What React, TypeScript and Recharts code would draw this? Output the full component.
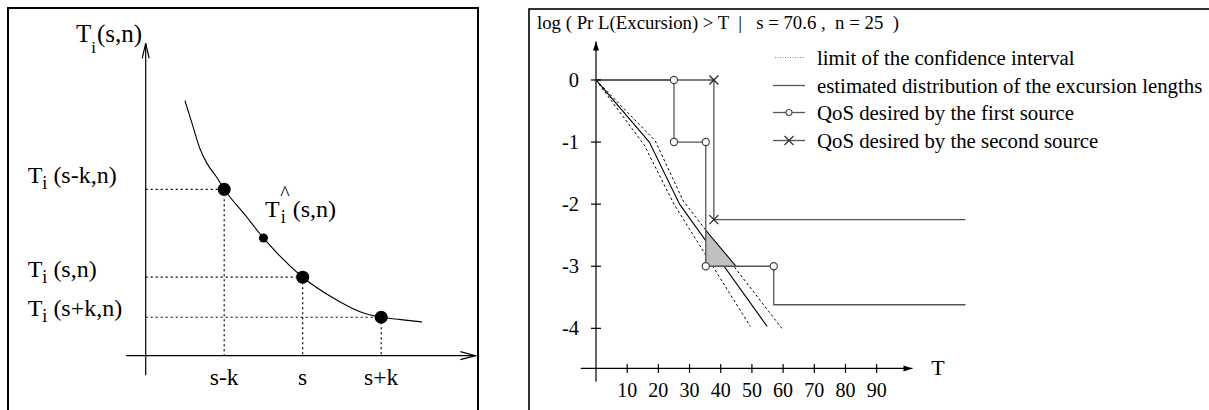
import React from 'react';
import { ComposedChart, Line, Scatter, XAxis, YAxis, ReferenceLine, Area, Legend } from 'recharts';

const FONT = '"Liberation Serif", "Times New Roman", serif';

// ---------------- Left panel (schematic units) ----------------
const leftCurve = [
  { x: 0.5, y: 3.25 },
  { x: 0.59, y: 2.96 },
  { x: 0.69, y: 2.64 },
  { x: 0.78, y: 2.45 },
  { x: 0.9, y: 2.28 },
  { x: 1.0, y: 2.12 },
  { x: 1.26, y: 1.8 },
  { x: 1.5, y: 1.5 },
  { x: 2.0, y: 1.0 },
  { x: 2.39, y: 0.735 },
  { x: 2.73, y: 0.56 },
  { x: 3.0, y: 0.49 },
  { x: 3.25, y: 0.46 },
  { x: 3.52, y: 0.43 },
];
const leftPoints = [
  { x: 1, y: 2.12 },
  { x: 2, y: 1.0 },
  { x: 3, y: 0.49 },
];
const leftHatPoint = [{ x: 1.5, y: 1.5 }];
const leftXTicks = [1, 2, 3];
const leftXLabels = ['s-k', 's', 's+k'];
const leftYTicks = [2.2, 1.0, 0.5];
const leftYArgs = ['(s-k,n)', '(s,n)', '(s+k,n)'];
const leftXAxisExtent = [-0.25, 4.2];
const leftYAxisExtent = [-0.25, 3.98];

// ---------------- Right panel ----------------
const legendNames = [
  'limit of the confidence interval',
  'estimated distribution of the excursion lengths',
  'QoS desired by the first source',
  'QoS desired by the second source',
];
const ciLower = [
  { x: 0, y: 0 },
  { x: 15.5, y: -1.05 },
  { x: 25, y: -2.0 },
  { x: 49.5, y: -3.97 },
];
const estimated = [
  { x: 0, y: 0 },
  { x: 17.1, y: -1.0 },
  { x: 26.8, y: -2.0 },
  { x: 54.9, y: -3.97 },
];
const ciUpper = [
  { x: 0, y: 0 },
  { x: 19, y: -0.98 },
  { x: 28, y: -1.95 },
  { x: 59.6, y: -4.0 },
];
const qos1Path = [
  { x: 0, y: 0 },
  { x: 25, y: 0 },
  { x: 25, y: -1 },
  { x: 35.2, y: -1 },
  { x: 35.2, y: -3 },
  { x: 57, y: -3 },
  { x: 57, y: -3.62 },
  { x: 118.5, y: -3.62 },
];
const qos1Marks = [
  { x: 25, y: 0 },
  { x: 25, y: -1 },
  { x: 35.2, y: -1 },
  { x: 35.2, y: -3 },
  { x: 57, y: -3 },
];
const qos2Path = [
  { x: 0, y: 0 },
  { x: 37.8, y: 0 },
  { x: 37.8, y: -2.25 },
  { x: 118.5, y: -2.25 },
];
const qos2Marks = [
  { x: 37.8, y: 0 },
  { x: 37.8, y: -2.25 },
];
const shadedZone = [
  { x: 35.2, y: -2.42 },
  { x: 44.9, y: -3.0 },
];
const shadedBase = -3;
const rightXTicks = [10, 20, 30, 40, 50, 60, 70, 80, 90];
const rightYTicks = [0, -1, -2, -3, -4];
const rightXAxisExtent = [-4.9, 101.5];
const rightYAxisExtent = [-4.86, 0.62];
const rightXAxisLevel = -4.645;
const titleText = 'log ( Pr L(Excursion) > T  |   s = 70.6 ,  n = 25  )';

// ---------------- shapes & ticks ----------------
const BigDot = (p: any) => <circle cx={p.cx} cy={p.cy} r={6.5} fill="#000" />;
const SmallDot = (p: any) => <circle cx={p.cx} cy={p.cy} r={4.5} fill="#000" />;
const OpenArrowUp = (p: any) => (
  <path d={`M${p.cx - 3.5},${p.cy + 15}L${p.cx},${p.cy}L${p.cx + 3.5},${p.cy + 15}`} fill="none" stroke="#000" strokeWidth={1.2} />
);
const OpenArrowRight = (p: any) => (
  <path d={`M${p.cx - 15},${p.cy - 4}L${p.cx},${p.cy}L${p.cx - 15},${p.cy + 4}`} fill="none" stroke="#000" strokeWidth={1.2} />
);
const FilledArrowUp = (p: any) => (
  <path d={`M${p.cx},${p.cy}L${p.cx - 3},${p.cy + 9}L${p.cx + 3},${p.cy + 9}Z`} fill="#000" />
);
const FilledArrowRight = (p: any) => (
  <path d={`M${p.cx},${p.cy}L${p.cx - 9},${p.cy - 3}L${p.cx - 9},${p.cy + 3}Z`} fill="#000" />
);
const CircleMark = (p: any) => <circle cx={p.cx} cy={p.cy} r={3.6} fill="#fff" stroke="#444" strokeWidth={1.2} />;
const CrossMark = (p: any) => (
  <path
    d={`M${p.cx - 4.5},${p.cy - 4.5}L${p.cx + 4.5},${p.cy + 4.5}M${p.cx - 4.5},${p.cy + 4.5}L${p.cx + 4.5},${p.cy - 4.5}`}
    stroke="#222"
    strokeWidth={1.2}
  />
);

const LeftXTick = (p: any) => {
  const i = leftXTicks.indexOf(p.payload.value);
  return (
    <text x={p.x} y={p.y + 29} textAnchor="middle" fontSize={23.5} fontFamily={FONT} fill="#000">
      {leftXLabels[i]}
    </text>
  );
};
const LeftYTick = (p: any) => {
  const i = leftYTicks.indexOf(p.payload.value);
  return (
    <text x={p.x - 118} y={p.y} fontSize={24} fontFamily={FONT} fill="#000">
      <tspan>T</tspan>
      <tspan fontSize={18} dy={6}>i</tspan>
      <tspan dy={-6} dx={6}>{leftYArgs[i]}</tspan>
    </text>
  );
};
const RightXTick = (p: any) => (
  <g>
    <line x1={p.x} x2={p.x} y1={p.y - 4.5} y2={p.y + 4.5} stroke="#000" strokeWidth={1.2} />
    <text x={p.x} y={p.y + 28.5} textAnchor="middle" fontSize={20} fontFamily={FONT} fill="#000">
      {p.payload.value}
    </text>
  </g>
);
const RightYTick = (p: any) => (
  <g>
    <line x1={p.x - 5} x2={p.x + 5} y1={p.y} y2={p.y} stroke="#000" strokeWidth={1.2} />
    <text x={p.x - 17} y={p.y + 7} textAnchor="end" fontSize={20.5} fontFamily={FONT} fill="#000">
      {p.payload.value}
    </text>
  </g>
);

const LegendIcon = ({ idx }: { idx: number }) => {
  if (idx === 0)
    return <line x1={2} x2={32} y1={13.5} y2={13.5} stroke="#888" strokeWidth={1} strokeDasharray="1 1.5" />;
  if (idx === 1) return <line x1={0} x2={32} y1={13.5} y2={13.5} stroke="#555" strokeWidth={1.3} />;
  if (idx === 2)
    return (
      <g>
        <line x1={0} x2={32} y1={13.5} y2={13.5} stroke="#555" strokeWidth={1.3} />
        <circle cx={16} cy={13.5} r={3} fill="#fff" stroke="#555" strokeWidth={1.2} />
      </g>
    );
  return (
    <g>
      <line x1={0} x2={32} y1={13.5} y2={13.5} stroke="#555" strokeWidth={1.3} />
      <path d="M11.5,9L20.5,18M11.5,18L20.5,9" stroke="#333" strokeWidth={1.2} />
    </g>
  );
};

const LegendContent = (props: any) => {
  const payload = (props.payload || []).filter((e: any) => legendNames.indexOf(e.value) >= 0);
  return (
    <div style={{ position: 'relative', width: 440, height: 112 }}>
      {payload.map((e: any) => {
        const idx = legendNames.indexOf(e.value);
        return (
          <div
            key={e.value}
            style={{ position: 'absolute', left: 0, top: idx * 27.5, height: 27, display: 'flex', alignItems: 'center', whiteSpace: 'nowrap' }}
          >
            <svg width={34} height={27} style={{ display: 'block' }}>
              <LegendIcon idx={idx} />
            </svg>
            <span style={{ marginLeft: 10, fontFamily: FONT, fontSize: 20.8, lineHeight: '27px', color: '#000' }}>{e.value}</span>
          </div>
        );
      })}
    </div>
  );
};

export default function App() {
  return (
    <div style={{ position: 'absolute', left: 0, top: 0, width: 1209, height: 410, background: '#fff', overflow: 'hidden', fontFamily: FONT }}>
      {/* Left schematic chart */}
      <div style={{ position: 'absolute', left: 0, top: 0 }}>
        <ComposedChart width={480} height={410} margin={{ top: 26, right: 4.6, bottom: 14.3, left: 25.7 }}>
          <XAxis
            type="number"
            dataKey="x"
            domain={[0, 4.2]}
            ticks={leftXTicks}
            interval={0}
            axisLine={false}
            tickLine={false}
            tickSize={0}
            tickMargin={0}
            height={40}
            tick={(p: any) => <LeftXTick {...p} />}
          />
          <YAxis
            type="number"
            dataKey="y"
            domain={[0, 4.2]}
            ticks={leftYTicks}
            interval={0}
            axisLine={false}
            tickLine={false}
            tickSize={0}
            tickMargin={0}
            width={120}
            tick={(p: any) => <LeftYTick {...p} />}
          />
          {leftPoints.map((pt, i) => (
            <ReferenceLine
              key={'h' + i}
              segment={[{ x: 0, y: pt.y }, { x: pt.x, y: pt.y }]}
              stroke="#000"
              strokeWidth={1.2}
              strokeDasharray="2 3"
              ifOverflow="visible"
            />
          ))}
          {leftPoints.map((pt, i) => (
            <ReferenceLine
              key={'v' + i}
              segment={[{ x: pt.x, y: pt.y }, { x: pt.x, y: 0 }]}
              stroke="#000"
              strokeWidth={1.2}
              strokeDasharray="2 3"
              ifOverflow="visible"
            />
          ))}
          <ReferenceLine
            segment={[{ x: leftXAxisExtent[0], y: 0 }, { x: leftXAxisExtent[1], y: 0 }]}
            stroke="#000"
            strokeWidth={1.2}
            ifOverflow="visible"
          />
          <ReferenceLine
            segment={[{ x: 0, y: leftYAxisExtent[0] }, { x: 0, y: leftYAxisExtent[1] }]}
            stroke="#000"
            strokeWidth={1.2}
            ifOverflow="visible"
          />
          <Line data={leftCurve} dataKey="y" type="monotone" stroke="#000" strokeWidth={1.1} dot={false} isAnimationActive={false} legendType="none" />
          <Scatter data={leftPoints} dataKey="y" shape={BigDot} isAnimationActive={false} legendType="none" />
          <Scatter data={leftHatPoint} dataKey="y" shape={SmallDot} isAnimationActive={false} legendType="none" />
          <Scatter data={[{ x: 0, y: leftYAxisExtent[1] }]} dataKey="y" shape={OpenArrowUp} isAnimationActive={false} legendType="none" />
          <Scatter data={[{ x: leftXAxisExtent[1], y: 0 }]} dataKey="y" shape={OpenArrowRight} isAnimationActive={false} legendType="none" />
        </ComposedChart>
      </div>

      {/* Right log chart */}
      <div style={{ position: 'absolute', left: 530, top: 0 }}>
        <ComposedChart width={679} height={410} margin={{ top: 30.3, right: 238.8, bottom: 11.6, left: 26 }}>
          <XAxis
            type="number"
            dataKey="x"
            domain={[0, 120]}
            ticks={rightXTicks}
            interval={0}
            axisLine={false}
            tickLine={false}
            tickSize={0}
            tickMargin={0}
            height={30}
            tick={(p: any) => <RightXTick {...p} />}
          />
          <YAxis
            type="number"
            dataKey="y"
            domain={[rightXAxisLevel, 0.8]}
            ticks={rightYTicks}
            interval={0}
            axisLine={false}
            tickLine={false}
            tickSize={0}
            tickMargin={0}
            width={40}
            tick={(p: any) => <RightYTick {...p} />}
          />
          <ReferenceLine
            segment={[{ x: rightXAxisExtent[0], y: rightXAxisLevel }, { x: rightXAxisExtent[1], y: rightXAxisLevel }]}
            stroke="#000"
            strokeWidth={1.2}
            ifOverflow="visible"
          />
          <ReferenceLine
            segment={[{ x: 0, y: rightYAxisExtent[0] }, { x: 0, y: rightYAxisExtent[1] }]}
            stroke="#000"
            strokeWidth={1.2}
            ifOverflow="visible"
          />
          <Line data={ciLower} name={legendNames[0]} dataKey="y" type="linear" stroke="#000" strokeWidth={1} strokeDasharray="2.5 2.5" dot={false} isAnimationActive={false} />
          <Line data={estimated} name={legendNames[1]} dataKey="y" type="linear" stroke="#000" strokeWidth={1.1} dot={false} isAnimationActive={false} />
          <Line data={ciUpper} dataKey="y" type="linear" stroke="#000" strokeWidth={1} strokeDasharray="2.5 2.5" dot={false} isAnimationActive={false} legendType="none" />
          <Area
            data={shadedZone}
            dataKey="y"
            baseValue={shadedBase}
            type="linear"
            fill="#c0c0c0"
            fillOpacity={1}
            stroke="#000"
            strokeWidth={1.1}
            isAnimationActive={false}
            legendType="none"
            {...({ zIndex: 450 } as any)}
          />
          <Line data={qos1Path} name={legendNames[2]} dataKey="y" type="linear" stroke="#555" strokeWidth={1.3} dot={false} isAnimationActive={false} {...({ zIndex: 500 } as any)} />
          <Line data={qos2Path} name={legendNames[3]} dataKey="y" type="linear" stroke="#555" strokeWidth={1.3} dot={false} isAnimationActive={false} {...({ zIndex: 500 } as any)} />
          <Scatter data={qos1Marks} dataKey="y" shape={CircleMark} isAnimationActive={false} legendType="none" />
          <Scatter data={qos2Marks} dataKey="y" shape={CrossMark} isAnimationActive={false} legendType="none" />
          <Scatter data={[{ x: 0, y: rightYAxisExtent[1] }]} dataKey="y" shape={FilledArrowUp} isAnimationActive={false} legendType="none" />
          <Scatter data={[{ x: rightXAxisExtent[1], y: rightXAxisLevel }]} dataKey="y" shape={FilledArrowRight} isAnimationActive={false} legendType="none" />
          <Legend
            layout="horizontal"
            verticalAlign="middle"
            align="center"
            content={(p: any) => <LegendContent {...p} />}
            wrapperStyle={{ position: 'absolute', left: 243, top: 44, width: 440, height: 112 }}
          />
        </ComposedChart>
      </div>

      {/* Frames and free text labels */}
      <svg width={1209} height={410} style={{ position: 'absolute', left: 0, top: 0, pointerEvents: 'none' }}>
        <rect x={8} y={8} width={470} height={440} fill="none" stroke="#000" strokeWidth={2} />
        <rect x={529} y={9} width={720} height={440} fill="none" stroke="#000" strokeWidth={1.6} />
        <text x={76} y={42} fontSize={25} fontFamily={FONT} fill="#000">
          <tspan>T</tspan>
          <tspan fontSize={17} dy={11}>i</tspan>
          <tspan dy={-11} dx={1}>(s,n)</tspan>
        </text>
        <text x={285} y={200} textAnchor="middle" fontSize={20} fontFamily={FONT} fill="#000">^</text>
        <text x={265} y={217} fontSize={24} fontFamily={FONT} fill="#000">
          <tspan>T</tspan>
          <tspan fontSize={18} dx={1} dy={6}>i</tspan>
          <tspan dy={-6} dx={7}>(s,n)</tspan>
        </text>
        <text x={537} y={29} fontSize={18.8} fontFamily={FONT} fill="#000" style={{ whiteSpace: 'pre' }}>
          {titleText}
        </text>
        <text x={938} y={375} textAnchor="middle" fontSize={22} fontFamily={FONT} fill="#000">T</text>
      </svg>
    </div>
  );
}
